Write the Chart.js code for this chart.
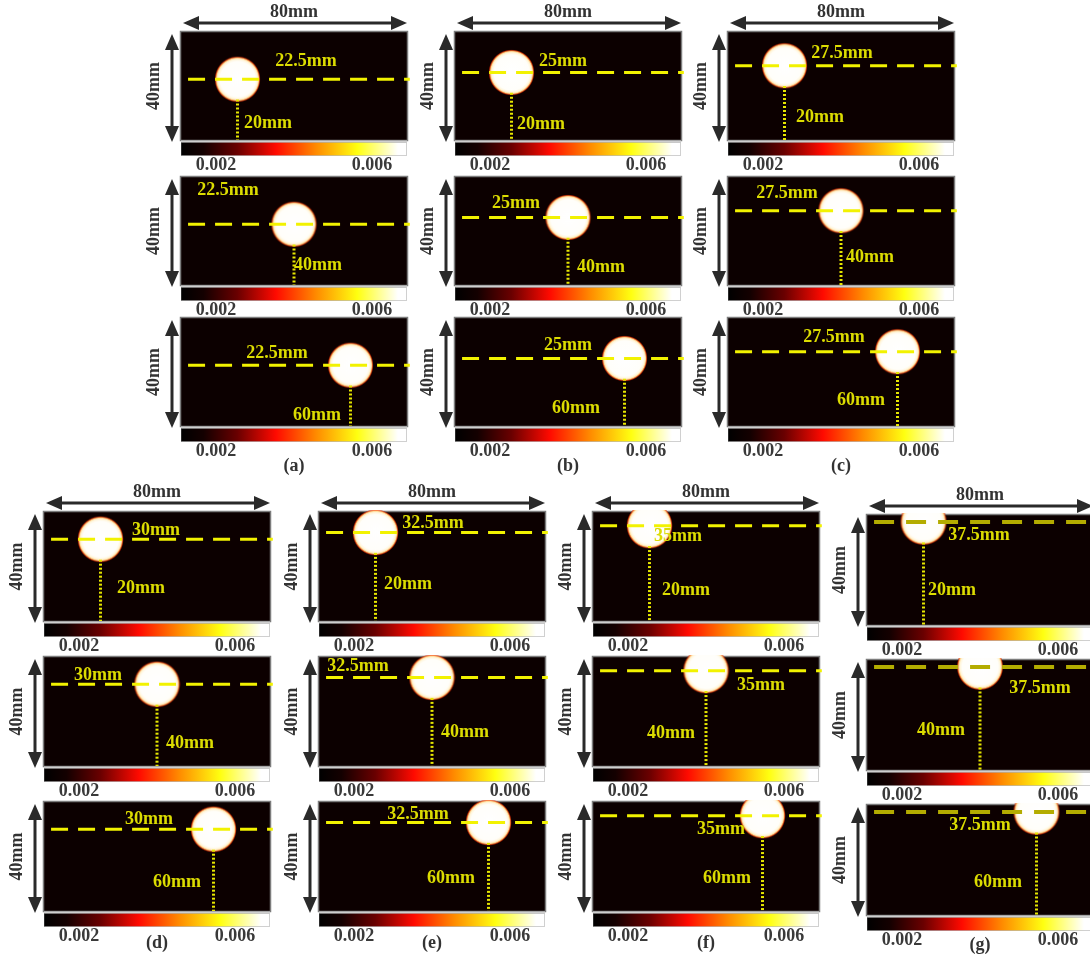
<!DOCTYPE html>
<html>
<head>
<meta charset="utf-8">
<script src="https://cdn.jsdelivr.net/npm/chart.js@4.4.0/dist/chart.umd.min.js"></script>
<style>
  html, body { margin: 0; padding: 0; background: #ffffff; width: 1090px; height: 957px; overflow: hidden; }
  canvas { position: absolute; }
</style>
</head>
<body>
<script>
// ---- data ----
const groupNames = ['(a)', '(b)', '(c)', '(d)', '(e)', '(f)', '(g)'];
// inclusion depth for each group, mm above the bottom face
const depthsMm = [22.5, 25, 27.5, 30, 32.5, 35, 37.5];
// lateral inclusion position for each row, mm from the left face
const lateralMm = [20, 40, 60];
const inclusionRadiusMm = 7.5;
const phantomWidthMm = 80;
const phantomHeightMm = 40;
const colorbarTicks = [0.002, 0.006];
const colorbarRange = [0.0011, 0.0069];

// ---- layout (pixels) ----
const AREA_W = 226;
const PAD = { left: 46, top: 34, right: 8, bottom: 52 };
const groupLayout = [
  { left: 181, tops: [32, 177, 318], h: 108, capY: 466 },
  { left: 455, tops: [32, 177, 318], h: 108, capY: 466 },
  { left: 728, tops: [32, 177, 318], h: 108, capY: 466 },
  { left: 44,  tops: [512, 657, 802], h: 109, capY: 943 },
  { left: 319, tops: [512, 657, 802], h: 109, capY: 943 },
  { left: 593, tops: [512, 657, 802], h: 109, capY: 943 },
  { left: 867, tops: [515, 660, 805], h: 110, capY: 945, olive: true }
];
// label anchors inside each panel: [depth dx, dy, lateral dx, dy]
const labelSpots = [
  [[125, 29, 87, 91], [47, 13, 137, 88], [96, 35, 136, 97]],
  [[108, 29, 86, 92], [61, 26, 146, 90], [113, 27, 121, 90]],
  [[114, 21, 92, 85], [59, 16, 142, 80], [106, 19, 133, 82]],
  [[112, 18, 97, 76], [54, 18, 146, 86], [105, 17, 133, 80]],
  [[114, 11, 89, 72], [39, 9, 146, 75], [99, 12, 132, 76]],
  [[85, 24, 93, 78], [168, 28, 78, 76], [128, 27, 134, 76]],
  [[112, 20, 85, 75], [173, 28, 74, 70], [113, 20, 131, 77]]
];

const TEXT_FONT = 'bold 18px "Liberation Serif", "DejaVu Serif", serif';
const LABEL_YELLOW = '#dcdc00';
const INK = '#2a2a2a';

// soft white disc with a thin hot rim, used as the inclusion marker
function makeGlow(r) {
  const pad = 3;
  const c = document.createElement('canvas');
  const s = Math.ceil(2 * (r + pad));
  c.width = s; c.height = s;
  const g = c.getContext('2d');
  const R = r + pad;
  const grad = g.createRadialGradient(s / 2 + 1, s / 2, 0, s / 2, s / 2, R);
  grad.addColorStop(0, '#ffffff');
  grad.addColorStop(0.76, '#fffefa');
  grad.addColorStop(0.85, '#fff6dc');
  grad.addColorStop(0.9, '#ffdc9a');
  grad.addColorStop(0.94, 'rgba(255,110,40,0.85)');
  grad.addColorStop(0.975, 'rgba(200,20,0,0.4)');
  grad.addColorStop(1, 'rgba(60,0,0,0)');
  g.fillStyle = grad;
  g.beginPath();
  g.arc(s / 2, s / 2, R, 0, Math.PI * 2);
  g.fill();
  return c;
}

function hotGradient(ctx, x0, x1) {
  const g = ctx.createLinearGradient(x0, 0, x1, 0);
  g.addColorStop(0, '#000000');
  g.addColorStop(0.1, '#140000');
  g.addColorStop(0.25, '#6a0000');
  g.addColorStop(0.42, '#ff0a00');
  g.addColorStop(0.6, '#ff8c00');
  g.addColorStop(0.78, '#ffff10');
  g.addColorStop(0.96, '#ffffff');
  g.addColorStop(1, '#ffffff');
  return g;
}

function doubleArrow(ctx, x1, y1, x2, y2) {
  const len = 16, half = 7;
  const ang = Math.atan2(y2 - y1, x2 - x1);
  const ux = Math.cos(ang), uy = Math.sin(ang);
  ctx.save();
  ctx.strokeStyle = INK; ctx.fillStyle = INK; ctx.lineWidth = 3;
  ctx.beginPath();
  ctx.moveTo(x1 + ux * (len - 2), y1 + uy * (len - 2));
  ctx.lineTo(x2 - ux * (len - 2), y2 - uy * (len - 2));
  ctx.stroke();
  const head = (tx, ty, dir) => {
    const bx = tx - dir * ux * len, by = ty - dir * uy * len;
    ctx.beginPath();
    ctx.moveTo(tx, ty);
    ctx.lineTo(bx - uy * half, by + ux * half);
    ctx.lineTo(bx + uy * half, by - ux * half);
    ctx.closePath();
    ctx.fill();
  };
  head(x2, y2, 1);
  head(x1, y1, -1);
  ctx.restore();
}

function buildPanel(gi, ri) {
  const lay = groupLayout[gi];
  const h = lay.h;
  const depth = depthsMm[gi];
  const lat = lateralMm[ri];
  const spot = labelSpots[gi][ri];
  const isFirstRow = ri === 0;
  const isLastRow = ri === lateralMm.length - 1;

  const canvas = document.createElement('canvas');
  const cw = PAD.left + AREA_W + PAD.right;
  const ch = PAD.top + h + PAD.bottom;
  canvas.width = cw; canvas.height = ch;
  canvas.style.width = cw + 'px'; canvas.style.height = ch + 'px';
  canvas.style.left = (lay.left - PAD.left) + 'px';
  canvas.style.top = (lay.tops[ri] - PAD.top) + 'px';
  document.body.appendChild(canvas);

  const rPx = inclusionRadiusMm * h / phantomHeightMm;
  const dashColor = lay.olive ? '#b4ac00' : '#f2f200';

  const panelPlugin = {
    id: 'panel' + gi + ri,
    beforeDatasetsDraw(chart) {
      const { ctx, chartArea: a } = chart;
      ctx.save();
      ctx.fillStyle = '#0c0000';
      ctx.fillRect(a.left, a.top, a.right - a.left, a.bottom - a.top);
      ctx.strokeStyle = '#7c7c7c';
      ctx.lineWidth = 1.5;
      ctx.strokeRect(a.left - 0.5, a.top - 0.5, a.right - a.left + 1, a.bottom - a.top + 1);
      ctx.restore();
    },
    afterDraw(chart) {
      const { ctx, chartArea: a } = chart;
      const cb = chart.scales.cb;
      ctx.save();
      // colour bar
      ctx.fillStyle = '#cfcfcf';
      ctx.fillRect(a.left, a.bottom + 0.5, a.right - a.left, 2);
      ctx.fillStyle = hotGradient(ctx, cb.left, cb.right);
      ctx.fillRect(cb.left, a.bottom + 2.5, cb.right - cb.left, 13);
      ctx.strokeStyle = 'rgba(120,120,120,0.35)';
      ctx.lineWidth = 1;
      ctx.strokeRect(cb.left + 0.5, a.bottom + 2.5, cb.right - cb.left - 1, 13);
      ctx.font = TEXT_FONT;
      ctx.fillStyle = '#3a3a3a';
      ctx.textAlign = 'center';
      ctx.textBaseline = 'middle';
      colorbarTicks.forEach(v => ctx.fillText(v.toFixed(3), cb.getPixelForValue(v), a.bottom + 25));

      // labels for depth and lateral position
      ctx.fillStyle = LABEL_YELLOW;
      ctx.fillText(depth + 'mm', a.left + spot[0], a.top + spot[1]);
      ctx.fillText(lat + 'mm', a.left + spot[2], a.top + spot[3]);

      // height arrow + label
      doubleArrow(ctx, a.left - 9, a.top + 2, a.left - 9, a.bottom + 2);
      ctx.save();
      ctx.translate(a.left - 27, (a.top + a.bottom) / 2);
      ctx.rotate(-Math.PI / 2);
      ctx.fillStyle = '#333333';
      ctx.fillText(phantomHeightMm + 'mm', 0, 0);
      ctx.restore();

      // width arrow + label on the first row
      if (isFirstRow) {
        doubleArrow(ctx, a.left + 2, a.top - 9, a.right, a.top - 9);
        ctx.fillStyle = '#333333';
        ctx.fillText(phantomWidthMm + 'mm', (a.left + a.right) / 2, a.top - 20);
      }
      // group caption under the last row
      if (isLastRow) {
        ctx.fillStyle = '#333333';
        ctx.fillText(groupNames[gi], (a.left + a.right) / 2, lay.capY - lay.tops[ri] + a.top);
      }
      ctx.restore();
    }
  };

  new Chart(canvas, {
    type: 'scatter',
    data: {
      datasets: [
        {
          type: 'line',
          data: [{ x: 2.5, y: depth }, { x: phantomWidthMm + 1, y: depth }],
          borderColor: dashColor,
          borderWidth: lay.olive ? 4 : 3,
          borderDash: lay.olive ? [20, 12] : [17, 10],
          pointRadius: 0,
          clip: false,
          order: 0
        },
        {
          type: 'line',
          data: [{ x: lat, y: depth - inclusionRadiusMm }, { x: lat, y: 0 }],
          borderColor: '#e6e600',
          borderWidth: 3,
          borderDash: [2, 2],
          pointRadius: 0,
          clip: false,
          order: 1
        },
        {
          type: 'scatter',
          data: [{ x: lat, y: depth }],
          pointStyle: makeGlow(rPx),
          pointRadius: rPx,
          clip: { left: 40, top: 2, right: 40, bottom: 0 },
          order: 2
        }
      ]
    },
    options: {
      responsive: false,
      animation: false,
      devicePixelRatio: 1,
      events: [],
      layout: { padding: PAD, autoPadding: false },
      plugins: { legend: { display: false }, tooltip: { enabled: false }, title: { display: false } },
      scales: {
        x: { type: 'linear', min: 0, max: phantomWidthMm, display: false },
        y: { type: 'linear', min: 0, max: phantomHeightMm, display: false },
        cb: { type: 'linear', axis: 'x', position: 'bottom', min: colorbarRange[0], max: colorbarRange[1], display: false }
      }
    },
    plugins: [panelPlugin]
  });
}

for (let gi = 0; gi < groupNames.length; gi++) {
  for (let ri = 0; ri < lateralMm.length; ri++) {
    buildPanel(gi, ri);
  }
}
</script>
</body>
</html>
